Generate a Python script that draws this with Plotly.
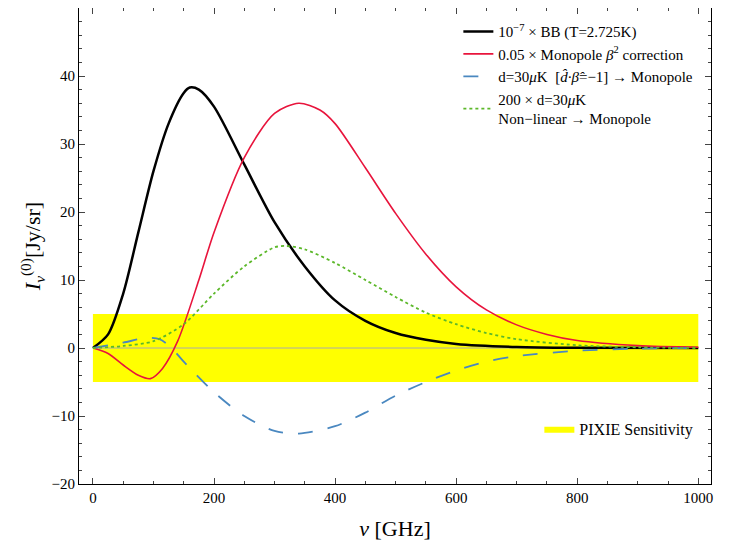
import plotly.graph_objects as go

bb_x = [0,25,50,75,100,125,150,160,175,200,250,300,350,400,450,500,550,600,700,800,1000]
bb_y = [0,2,8,17,26,33,37.5,38.3,38,35.5,27,18.5,12,7,4,2.2,1.2,0.6,0.15,0.03,0]
red_x = [0,25,50,75,95,115,140,175,200,250,300,340,375,400,450,500,550,600,650,700,750,800,900,1000]
red_y = [0,-0.8,-2.5,-4,-4.5,-3,1,10,17,28,34.5,36,35,33,26.5,19.8,13.8,9,5.6,3.4,2,1.1,0.35,0.1]
blue_x = [0,50,90,110,130,150,200,250,300,340,400,450,500,550,600,650,700,800,900,1000]
blue_y = [0,0.8,1.5,1.3,0,-2,-6.5,-10,-12.2,-12.6,-11.5,-9.5,-7,-5,-3.3,-2,-1.2,-0.4,-0.1,0]
green_x = [0,50,100,150,200,250,300,320,350,400,450,500,550,600,650,700,800,900,1000]
green_y = [0,0.3,1,3.5,8,12,14.8,15,14.5,12.5,10,7.5,5.2,3.5,2.2,1.3,0.4,0.1,0]
band_lo, band_hi = -5, 5
x_ticks = [0,200,400,600,800,1000]
y_ticks = [-20,-10,0,10,20,30,40,50]

F = "Liberation Serif"
fig = go.Figure()
fig.add_trace(go.Scatter(x=[0,1000,1000,0,0], y=[band_lo,band_lo,band_hi,band_hi,band_lo],
    fill="toself", fillcolor="#ffff00", line=dict(width=0), mode="lines",
    name="PIXIE Sensitivity", legend="legend2"))
fig.add_trace(go.Scatter(x=[0,1000], y=[0,0], mode="lines", line=dict(color="#aaaaaa", width=1), showlegend=False))
fig.add_trace(go.Scatter(x=bb_x, y=bb_y, mode="lines", line=dict(color="black", width=2.5, shape="spline", smoothing=0.8),
    name="10<sup>−7</sup> × BB (T=2.725K)"))
fig.add_trace(go.Scatter(x=red_x, y=red_y, mode="lines", line=dict(color="#e8143c", width=1.6, shape="spline", smoothing=0.8),
    name="0.05 × Monopole <i>β</i><sup>2</sup> correction"))
fig.add_trace(go.Scatter(x=blue_x, y=blue_y, mode="lines", line=dict(color="#4a88c0", width=1.8, shape="spline", smoothing=0.8, dash="longdash"),
    name="d=30<i>μ</i>K  [<i>d̂·β̂</i>=−1] → Monopole"))
fig.add_trace(go.Scatter(x=green_x, y=green_y, mode="lines", line=dict(color="#5cb82a", width=1.8, shape="spline", smoothing=0.8, dash="dot"),
    name="200 × d=30<i>μ</i>K<br>Non−linear → Monopole"))

ax = dict(showline=True, linecolor="black", mirror="ticks", ticks="inside", ticklen=6,
          showgrid=False, zeroline=False, tickfont=dict(size=15, color="black"), automargin=False)
fig.update_xaxes(range=[-23,1021], tickvals=x_ticks, minor=dict(ticks="inside", ticklen=3, dtick=50),
                 title=dict(text="<i>ν</i> [GHz]", font=dict(size=22)), **ax)
fig.update_yaxes(range=[-20,50], tickvals=y_ticks, minor=dict(ticks="inside", ticklen=3, dtick=2),
                 title=dict(text="<i>I<sub>ν</sub></i><sup>(0)</sup>[Jy/sr]", font=dict(size=22), standoff=4), **ax)
fig.update_layout(width=747, height=548, margin=dict(l=71, r=44, t=0, b=72, autoexpand=False),
    plot_bgcolor="white", paper_bgcolor="white", font=dict(family=F, color="black", size=15),
    legend=dict(x=0.98, y=0.985, xanchor="right", yanchor="top", bgcolor="rgba(0,0,0,0)",
                font=dict(size=15), tracegroupgap=4),
    legend2=dict(x=0.98, y=0.08, xanchor="right", yanchor="bottom", bgcolor="rgba(0,0,0,0)", font=dict(size=16)))
fig.write_html("out.html")
